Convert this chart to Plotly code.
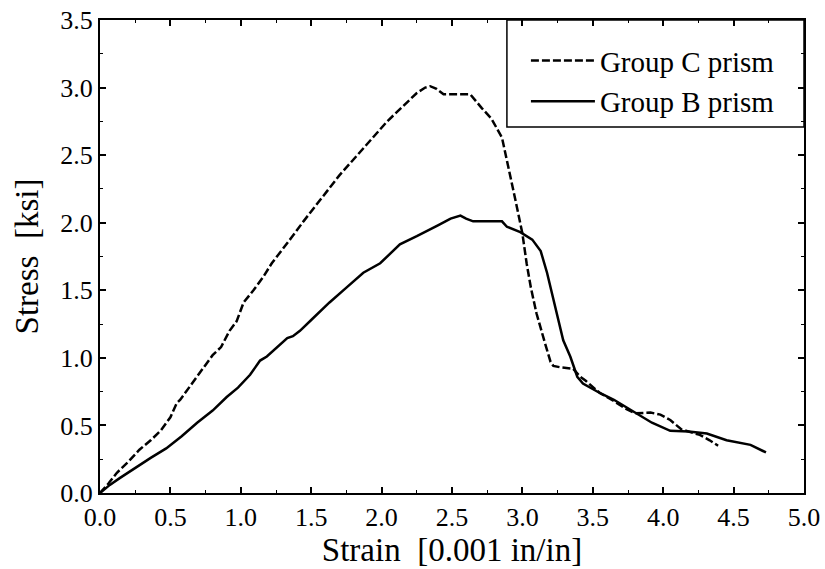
import plotly.graph_objects as go

# Group C prism (dashed)
c_strain = [0, 0.06, 0.12, 0.20, 0.28, 0.36, 0.43, 0.50, 0.545, 0.57, 0.66, 0.76, 0.80, 0.86, 0.92,
            0.97, 1.02, 1.09, 1.16, 1.22, 1.28, 1.36, 1.445, 1.53, 1.61, 1.70, 1.80, 1.92, 2.04,
            2.14, 2.25, 2.31, 2.345, 2.39, 2.44, 2.55, 2.63, 2.71, 2.78, 2.855, 2.90, 2.95, 3.00,
            3.03, 3.06, 3.10, 3.16, 3.20, 3.22, 3.27, 3.36, 3.41, 3.45, 3.55, 3.65, 3.74, 3.80,
            3.91, 3.98, 4.05, 4.13, 4.20, 4.26, 4.33, 4.39]
c_stress = [0, 0.07, 0.15, 0.23, 0.32, 0.39, 0.46, 0.56, 0.665, 0.69, 0.82, 0.96, 1.02, 1.08, 1.20,
            1.27, 1.41, 1.50, 1.60, 1.70, 1.78, 1.89, 2.01, 2.12, 2.23, 2.35, 2.47, 2.61, 2.75,
            2.85, 2.96, 3.00, 3.01, 2.99, 2.95, 2.95, 2.95, 2.85, 2.77, 2.63, 2.42, 2.17, 1.92,
            1.70, 1.52, 1.33, 1.11, 0.97, 0.94, 0.93, 0.92, 0.86, 0.83, 0.74, 0.68, 0.62, 0.59,
            0.595, 0.58, 0.54, 0.47, 0.45, 0.43, 0.39, 0.35]

# Group B prism (solid)
b_strain = [0, 0.07, 0.14, 0.26, 0.36, 0.47, 0.58, 0.69, 0.80, 0.90, 0.98, 1.066, 1.137, 1.185,
            1.26, 1.33, 1.37, 1.42, 1.50, 1.63, 1.75, 1.87, 1.99, 2.05, 2.13, 2.25, 2.30, 2.40,
            2.49, 2.56, 2.60, 2.65, 2.76, 2.855, 2.89, 2.985, 3.07, 3.13, 3.175, 3.23, 3.29,
            3.34, 3.39, 3.43, 3.55, 3.65, 3.79, 3.92, 4.05, 4.18, 4.31, 4.45, 4.62, 4.73]
b_stress = [0, 0.06, 0.11, 0.195, 0.26, 0.33, 0.42, 0.52, 0.61, 0.71, 0.78, 0.875, 0.98, 1.01,
            1.08, 1.146, 1.16, 1.20, 1.28, 1.41, 1.52, 1.63, 1.70, 1.76, 1.84, 1.90, 1.925, 1.98,
            2.03, 2.053, 2.03, 2.01, 2.01, 2.01, 1.97, 1.93, 1.875, 1.79, 1.63, 1.38, 1.13,
            1.01, 0.86, 0.81, 0.74, 0.69, 0.60, 0.52, 0.46, 0.455, 0.44, 0.39, 0.356, 0.30]

x_ticks = [0.0, 0.5, 1.0, 1.5, 2.0, 2.5, 3.0, 3.5, 4.0, 4.5, 5.0]
y_ticks = [0.0, 0.5, 1.0, 1.5, 2.0, 2.5, 3.0, 3.5]

FONT = "Liberation Serif, Times New Roman, Times, serif"

fig = go.Figure()
fig.add_trace(go.Scatter(x=c_strain, y=c_stress, mode="lines", name="Group C prism",
                         line=dict(color="black", width=2.5, dash="8px,3px")))
fig.add_trace(go.Scatter(x=b_strain, y=b_stress, mode="lines", name="Group B prism",
                         line=dict(color="black", width=2.5)))

axis_common = dict(showline=True, linecolor="black", linewidth=2, mirror="ticks",
                   ticks="inside", ticklen=6, tickwidth=1.5, tickcolor="black",
                   showgrid=False, zeroline=False, automargin=False,
                   tickfont=dict(family=FONT, size=26, color="black"),
                   minor=dict(ticks="inside", ticklen=3, tickcolor="black", tickwidth=1))

fig.update_xaxes(**axis_common, range=[0, 5], tickvals=x_ticks,
                 ticktext=[f"{v:.1f}" for v in x_ticks], minor_dtick=0.25,
                 title=dict(text="Strain  [0.001 in/in]", font=dict(family=FONT, size=33, color="black"),
                            standoff=0))
fig.update_yaxes(**axis_common, range=[0, 3.5], tickvals=y_ticks,
                 ticktext=[f"{v:.1f}" for v in y_ticks], minor_dtick=0.25,
                 title=dict(text="Stress  [ksi]", font=dict(family=FONT, size=33, color="black"),
                            standoff=12))

# legend frame (paper coords = plot area)
fig.add_shape(type="rect", xref="paper", yref="paper", x0=0.578, x1=1.0, y0=0.774, y1=1.0,
              line=dict(color="black", width=1.5), fillcolor="white", layer="below")

fig.update_layout(
    width=825, height=569,
    margin=dict(l=100, r=21, t=20, b=76, autoexpand=False),
    plot_bgcolor="white", paper_bgcolor="white",
    font=dict(family=FONT, color="black"),
    showlegend=True,
    legend=dict(x=0.605, y=0.968, xanchor="left", yanchor="top",
                borderwidth=0, bgcolor="rgba(0,0,0,0)",
                font=dict(family=FONT, size=29, color="black"),
                itemwidth=64, tracegroupgap=0),
)

fig.write_html("out.html")
